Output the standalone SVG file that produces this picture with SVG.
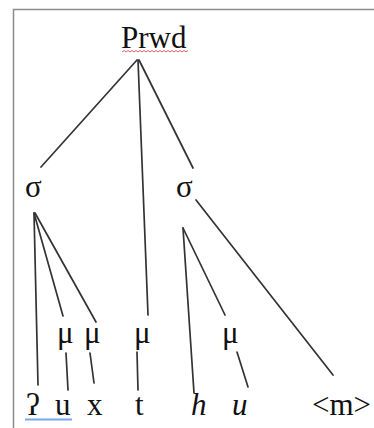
<svg xmlns="http://www.w3.org/2000/svg" width="374" height="428" viewBox="0 0 374 428">
  <style>
    .t { font-family: "Liberation Serif", "Times New Roman", serif; font-size: 31px; fill: #111111; }
    .i { font-style: italic; }
    .edge { stroke: #333333; stroke-width: 1.7; fill: none; stroke-linecap: round; }
  </style>
  <rect width="374" height="428" fill="#ffffff"/>
  <!-- frame -->
  <path d="M13.5,428 V9.5 H374" fill="none" stroke="#8c8c8c" stroke-width="1.5"/>

  <g id="connectors">
    <!-- Prwd to σ, μ, σ -->
    <line class="edge" x1="137" y1="60" x2="41" y2="167"/>
    <line class="edge" x1="138" y1="60" x2="148" y2="315"/>
    <line class="edge" x1="139" y1="60" x2="193" y2="168"/>
    <!-- left σ -->
    <line class="edge" x1="34" y1="213" x2="38" y2="385"/>
    <line class="edge" x1="34" y1="213" x2="63" y2="316"/>
    <line class="edge" x1="35" y1="213" x2="96" y2="322"/>
    <!-- μ to segments -->
    <line class="edge" x1="66" y1="353" x2="68" y2="390"/>
    <line class="edge" x1="90" y1="353" x2="94" y2="383"/>
    <line class="edge" x1="137" y1="352" x2="138" y2="390"/>
    <!-- right σ -->
    <line class="edge" x1="183" y1="228" x2="194" y2="393"/>
    <line class="edge" x1="183" y1="228" x2="225" y2="315"/>
    <line class="edge" x1="237" y1="352" x2="248" y2="387"/>
    <line class="edge" x1="196" y1="200" x2="333" y2="375"/>
  </g>

  <g id="prwd">
    <text class="t" x="121" y="48">Prwd</text>
    <path d="M122,52 l2,-1.5 l2,1.5 l2,-1.5 l2,1.5 l2,-1.5 l2,1.5 l2,-1.5 l2,1.5 l2,-1.5 l2,1.5 l2,-1.5 l2,1.5 l2,-1.5 l2,1.5 l2,-1.5 l2,1.5 l2,-1.5 l2,1.5 l2,-1.5 l2,1.5 l2,-1.5 l2,1.5 l2,-1.5 l2,1.5 l2,-1.5 l2,1.5 l2,-1.5 l2,1.5 l2,-1.5 l2,1.5 l2,-1.5 l2,1.5 l2,-1.5" fill="none" stroke="#e06666" stroke-width="1"/>
  </g>
  <g id="sigma1"><text class="t" x="25" y="197">σ</text></g>
  <g id="sigma2"><text class="t" x="176" y="197">σ</text></g>
  <g id="mu1"><text class="t" x="57" y="343">μ</text></g>
  <g id="mu2"><text class="t" x="84" y="343">μ</text></g>
  <g id="mu3"><text class="t" x="134" y="343">μ</text></g>
  <g id="mu4"><text class="t" x="222" y="343">μ</text></g>

  <g id="seg-glottal"><text class="t" x="26" y="415">ʔ</text></g>
  <g id="seg-u1"><text class="t" x="55" y="415">u</text></g>
  <g id="seg-x"><text class="t" x="87" y="415">x</text></g>
  <g id="seg-t"><text class="t" x="135" y="415">t</text></g>
  <g id="seg-h"><text class="t i" x="191" y="415">h</text></g>
  <g id="seg-u2"><text class="t i" x="232" y="415">u</text></g>
  <g id="seg-m"><text class="t" x="312" y="415">&lt;m&gt;</text></g>
  <line x1="25" y1="419.5" x2="72" y2="419.5" stroke="#7ba7ee" stroke-width="2"/>
</svg>
